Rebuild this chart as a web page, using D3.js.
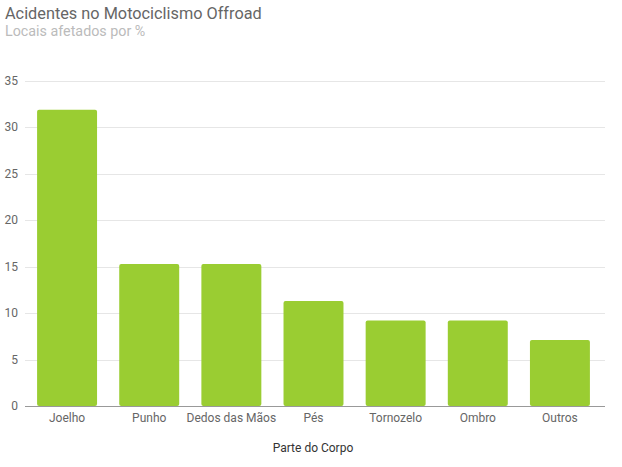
<!DOCTYPE html>
<html><head><meta charset="utf-8">
<script src="https://cdn.jsdelivr.net/npm/d3@7"></script>
<style>body{margin:0;background:#fff;font-family:Roboto,sans-serif;}</style>
</head><body>
<svg id="c" width="622" height="467"></svg>
<script>
const categories = ["Joelho","Punho","Dedos das Mãos","Pés","Tornozelo","Ombro","Outros"];
const values = [31.9, 15.3, 15.3, 11.3, 9.2, 9.2, 7.1];
const yTicks = [0,5,10,15,20,25,30,35];

const svg = d3.select("#c");
const m = {l:25, r:605, t:81, b:406};
const x = d3.scaleBand().domain(categories).range([26, 601]).paddingInner(0.27).paddingOuter(0.135);
const y = d3.scaleLinear().domain([0,35]).range([m.b, m.t]);

svg.append("text").attr("x",5).attr("y",19).attr("fill","#666").attr("font-size",16.3).text("Acidentes no Motociclismo Offroad");
svg.append("text").attr("x",5).attr("y",36).attr("fill","#bbb").attr("font-size",14.3).text("Locais afetados por %");

const g = svg.append("g");
g.selectAll(".grid").data(yTicks.filter(d=>d>0)).join("line")
 .attr("x1",m.l).attr("x2",m.r).attr("y1",d=>Math.round(y(d))+0.5).attr("y2",d=>Math.round(y(d))+0.5)
 .attr("stroke","#e6e6e6");
g.selectAll(".yl").data(yTicks).join("text")
 .attr("x",18).attr("y",d=>y(d)+4).attr("text-anchor","end").attr("fill","#666").attr("font-size",12).text(d=>d);

g.selectAll(".bar").data(values).join("rect")
 .attr("x",(d,i)=>x(categories[i])).attr("width",x.bandwidth())
 .attr("y",d=>y(d)).attr("height",d=>y(0)-y(d)).attr("rx",2)
 .attr("fill","#9acd32");

g.append("line").attr("x1",m.l).attr("x2",m.r).attr("y1",m.b+0.5).attr("y2",m.b+0.5).attr("stroke","#999");

g.selectAll(".xl").data(categories).join("text")
 .attr("x",d=>x(d)+x.bandwidth()/2).attr("y",422).attr("text-anchor","middle").attr("fill","#666").attr("font-size",12).text(d=>d);

svg.append("text").attr("x",313).attr("y",452).attr("text-anchor","middle").attr("fill","#333").attr("font-size",12).text("Parte do Corpo");
</script>
</body></html>
